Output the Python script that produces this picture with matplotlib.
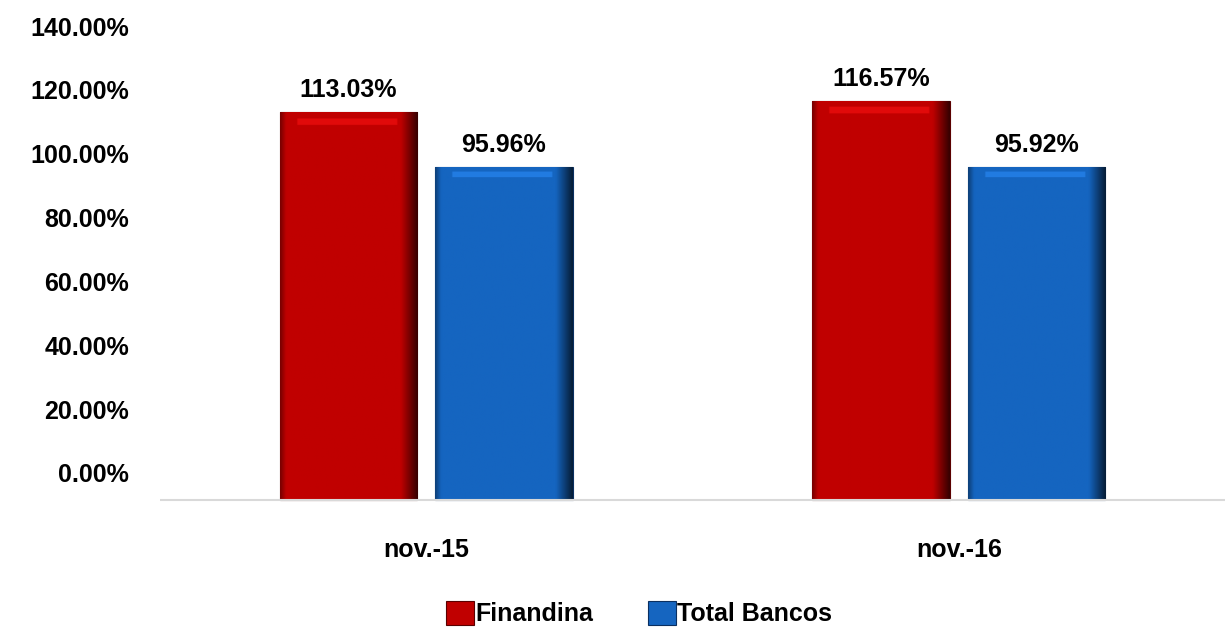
import matplotlib
matplotlib.use("Agg")
import matplotlib.pyplot as plt
import numpy as np
from matplotlib.colors import to_rgb

categories = ["nov.-15", "nov.-16"]
series_names = ["Finandina", "Total Bancos"]
finandina = [113.03, 116.57]
total_bancos = [95.96, 95.92]
ytick_values = [0, 20, 40, 60, 80, 100, 120, 140]

plt.rcParams['font.family'] = ['Liberation Sans', 'DejaVu Sans']
plt.rcParams['font.weight'] = 'bold'
FS = 18

fig = plt.figure(figsize=(12.29, 6.31), dpi=100)
ax = fig.add_axes([0.130, 0.2029, 0.867, 0.781])

base = -8.5
x = np.arange(len(categories))
width = 0.258
off = 0.146
colors = ["#C00000", "#1565C0"]
edges = ["#5a0000", "#0a2f60"]


def shade(bar, color):
    x0, y0 = bar.get_x(), bar.get_y()
    w, h = bar.get_width(), bar.get_height()
    c = np.array(to_rgb(color))
    nx, ny = 80, 300
    u = np.linspace(0, 1, nx)
    v = np.linspace(0, 1, ny)
    U, V = np.meshgrid(u, v)
    f = np.ones_like(U)
    f = np.where(U > 0.88, 1 - (U - 0.88) / 0.12 * 0.7, f)
    f = np.where(U < 0.04, 0.65 + U / 0.04 * 0.35, f)
    img = c[None, None, :] * f[..., None]
    top = (V > 0.968) & (V < 0.984) & (U > 0.12) & (U < 0.86)
    img[top] = np.clip(c * 1.12 + 0.04, 0, 1)
    im = ax.imshow(img, extent=[x0, x0 + w, y0, y0 + h], origin="lower",
                   aspect="auto", zorder=3, interpolation="bilinear")
    im.set_clip_path(bar)


for i, (vals, c, e, name) in enumerate(zip([finandina, total_bancos], colors, edges, series_names)):
    pos = x + (-off if i == 0 else off)
    heights = [v - base for v in vals]
    bars = ax.bar(pos, heights, width, bottom=base, color=c, edgecolor=e, linewidth=0.8,
                  label=name, zorder=3)
    for b in bars:
        shade(b, c)
    for p, v in zip(pos, vals):
        ax.annotate(f"{v:.2f}%", (p, v), xytext=(0, 7), textcoords="offset points",
                    ha="center", va="bottom", fontsize=FS, fontweight="bold", color="black")

ax.axhline(base, color="#d9d9d9", linewidth=1.5, zorder=4)
ax.set_xlim(-0.5, 1.5)
ax.set_ylim(-9.4, 145)
ax.set_yticks(ytick_values)
ax.set_yticklabels([f"{v:.2f}%" for v in ytick_values], fontsize=FS, fontweight="bold")
ax.set_xticks(x)
ax.set_xticklabels(categories, fontsize=FS, fontweight="bold")
ax.tick_params(axis="both", length=0)
ax.tick_params(axis="x", pad=25)
ax.tick_params(axis="y", pad=22)
for s in ax.spines.values():
    s.set_visible(False)

fig.legend(loc="center", bbox_to_anchor=(0.52, 0.028), ncol=2, frameon=False,
           handlelength=1.1, handleheight=1.1, handletextpad=0.05, columnspacing=2.2,
           prop={'weight': 'bold', 'size': FS})

fig.savefig("out.png", dpi=100)
